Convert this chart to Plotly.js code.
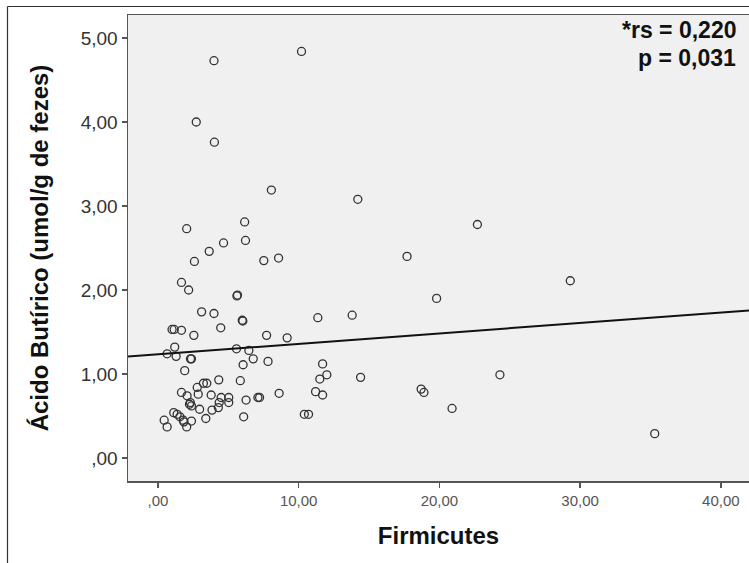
<!DOCTYPE html>
<html>
<head>
<meta charset="utf-8">
<script src="https://cdn.plot.ly/plotly-3.0.1.min.js"></script>
<style>
html,body{margin:0;padding:0;background:#fff;}
#chart{width:749px;height:563px;}
</style>
</head>
<body>
<div id="chart"></div>
<script>
// Firmicutes (x) and Ácido Butírico (y)
const firmicutes = [10.2, 3.98, 2.72, 4.01, 8.06, 14.2, 22.7, 2.04, 6.16, 6.22,
  3.64, 4.66, 2.59, 7.52, 8.57, 17.7, 29.3, 1.67, 2.18, 19.8,
  5.61, 5.65, 3.10, 3.98, 5.99, 6.03, 11.36, 13.8, 1.0, 1.15,
  1.67, 4.46, 2.55, 7.72, 9.18, 1.19, 0.65, 1.29, 2.31, 2.38,
  5.58, 6.46, 6.77, 6.05, 7.82, 1.90, 11.7, 12.0, 11.5, 14.4,
  24.3, 4.32, 5.85, 3.23, 3.47, 2.79, 1.67, 2.07, 2.86, 3.78,
  4.49, 5.03, 8.61, 7.10, 7.22, 6.26, 11.2, 11.7, 18.7, 18.9,
  2.24, 2.30, 2.38, 4.35, 5.03, 2.96, 3.84, 4.29, 20.9, 1.12,
  1.36, 1.56, 10.4, 10.7, 6.09, 0.44, 0.65, 1.80, 2.04, 2.38,
  3.40, 1.84, 35.3];
const acidoButirico = [4.84, 4.73, 4.00, 3.76, 3.19, 3.08, 2.78, 2.73, 2.81, 2.59,
  2.46, 2.56, 2.34, 2.35, 2.38, 2.40, 2.11, 2.09, 2.00, 1.90,
  1.93, 1.94, 1.74, 1.72, 1.64, 1.63, 1.67, 1.70, 1.53, 1.53,
  1.52, 1.55, 1.46, 1.46, 1.43, 1.32, 1.24, 1.21, 1.18, 1.18,
  1.30, 1.28, 1.18, 1.11, 1.15, 1.04, 1.12, 0.99, 0.94, 0.96,
  0.99, 0.93, 0.92, 0.89, 0.89, 0.84, 0.78, 0.74, 0.76, 0.75,
  0.72, 0.72, 0.77, 0.72, 0.72, 0.69, 0.79, 0.75, 0.82, 0.78,
  0.64, 0.66, 0.62, 0.66, 0.66, 0.58, 0.57, 0.60, 0.59, 0.54,
  0.52, 0.49, 0.52, 0.52, 0.49, 0.45, 0.37, 0.45, 0.37, 0.44,
  0.47, 0.43, 0.29];

// Fit line
const fitIntercept = 1.235;
const fitSlope = 0.0124;

const xTickVals = [0, 10, 20, 30, 40];
const xTickText = [',00', '10,00', '20,00', '30,00', '40,00'];
const yTickVals = [0, 1, 2, 3, 4, 5];
const yTickText = [',00', '1,00', '2,00', '3,00', '4,00', '5,00'];

const xRange = [-2.13, 42.0];
const yRange = [-0.274, 5.274];

const statLines = ['*rs = 0,220', 'p = 0,031'];

const fitX = xRange.slice();
const fitY = fitX.map(v => fitIntercept + fitSlope * v);

const traces = [
  {
    x: firmicutes, y: acidoButirico, type: 'scatter', mode: 'markers',
    marker: {symbol: 'circle-open', size: 8, color: '#333', line: {width: 1.3, color: '#333'}},
    hoverinfo: 'x+y', showlegend: false
  },
  {
    x: fitX, y: fitY, type: 'scatter', mode: 'lines',
    line: {color: '#111', width: 2}, hoverinfo: 'skip', showlegend: false
  }
];

const FONT = 'Liberation Sans, Arial, sans-serif';
const W = 749, H = 563, ML = 128, MR = 0, MT = 15, MB = 82;
const pw = W - ML - MR, ph = H - MT - MB;
const px = v => (v - ML) / pw;
const py = v => (H - MB - v) / ph;

const layout = {
  width: W, height: H,
  margin: {l: ML, r: MR, t: MT, b: MB, pad: 0},
  paper_bgcolor: '#ffffff',
  plot_bgcolor: '#f0f0f0',
  font: {family: FONT, color: '#222'},
  xaxis: {
    range: xRange, tickvals: xTickVals, ticktext: xTickText,
    showgrid: false, zeroline: false,
    showline: true, mirror: true, linecolor: '#555', linewidth: 1.5,
    ticks: 'outside', ticklen: 5, tickwidth: 1.5, tickcolor: '#555',
    tickfont: {family: FONT, size: 15, color: '#555'},
    title: {text: 'Firmicutes', font: {family: FONT, size: 24, color: '#111', weight: 'bold'}, standoff: 19}
  },
  yaxis: {
    range: yRange, tickvals: yTickVals, ticktext: yTickText,
    showgrid: false, zeroline: false,
    showline: true, mirror: false, linecolor: '#555', linewidth: 1.5,
    ticks: 'outside', ticklen: 5, tickwidth: 1.5, tickcolor: '#555',
    tickfont: {family: FONT, size: 19, color: '#333'},
    title: {text: 'Ácido Butírico (umol/g de fezes)', font: {family: FONT, size: 24, color: '#111', weight: 'bold'}, standoff: 25}
  },
  annotations: [
    {xref: 'paper', yref: 'paper', x: px(738), y: py(30), xanchor: 'right', yanchor: 'middle',
     text: '<b>' + statLines[0] + '</b>', showarrow: false, font: {family: FONT, size: 23, color: '#111'}},
    {xref: 'paper', yref: 'paper', x: px(738), y: py(58), xanchor: 'right', yanchor: 'middle',
     text: '<b>' + statLines[1] + '</b>', showarrow: false, font: {family: FONT, size: 23, color: '#111'}}
  ],
  shapes: [
    {type: 'line', xref: 'paper', yref: 'paper', x0: px(7.5), x1: px(7.5), y0: py(6.5), y1: py(563),
     line: {color: '#333', width: 1.2}},
    {type: 'line', xref: 'paper', yref: 'paper', x0: px(7.5), x1: px(749), y0: py(6.5), y1: py(6.5),
     line: {color: '#333', width: 1.2}}
  ]
};

Plotly.newPlot('chart', traces, layout, {staticPlot: true, displayModeBar: false});
</script>
</body>
</html>
